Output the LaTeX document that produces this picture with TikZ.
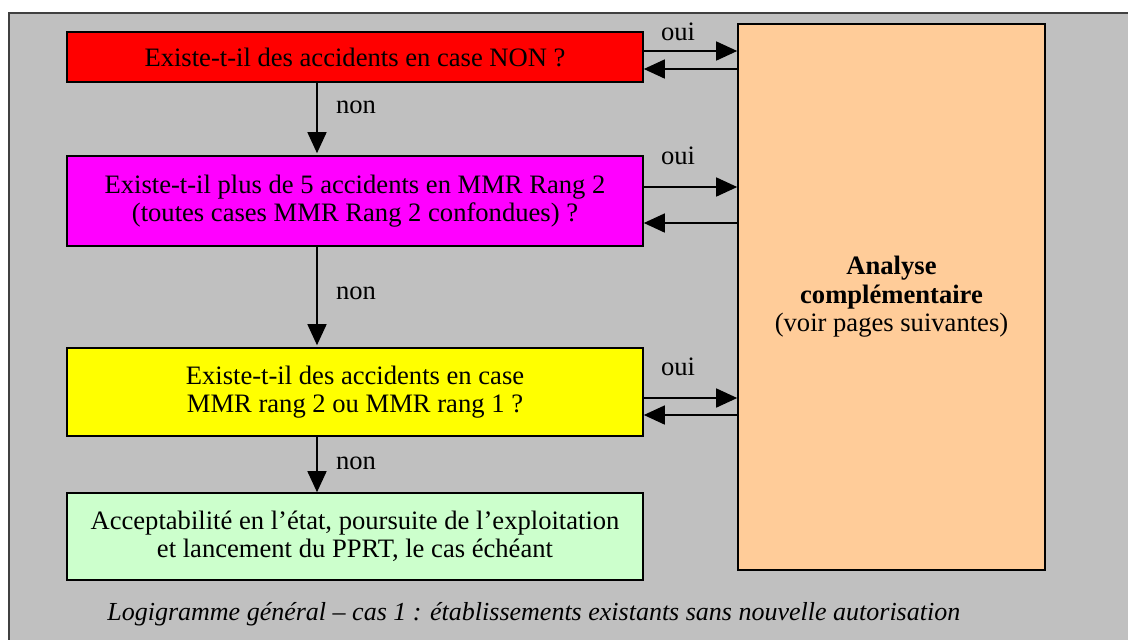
\documentclass[tikz,border=0pt]{standalone}
\usepackage{fontspec}
\setmainfont{Liberation Serif}
\usetikzlibrary{arrows.meta}
\definecolor{bggray}{HTML}{C0C0C0}
\definecolor{boxred}{HTML}{FF0000}
\definecolor{boxmag}{HTML}{FF00FF}
\definecolor{boxyel}{HTML}{FFFF00}
\definecolor{boxgreen}{HTML}{CCFFCC}
\definecolor{boxorange}{HTML}{FFCC99}
\begin{document}
\begin{tikzpicture}[x=0.5pt,y=-0.5pt,
  box/.style={draw=black,line width=0.8pt,align=center,inner sep=0pt,font=\fontsize{13.3}{14.2}\selectfont},
  arr/.style={line width=0.75pt,-{Triangle[length=10.5pt,width=9.5pt]}},
  lab/.style={font=\fontsize{13.3}{14.2}\selectfont,inner sep=0pt}]
\clip (0,0) rectangle (1128,639);
\useasboundingbox (0,0) rectangle (1128,639);
\fill[white] (0,0) rectangle (1128,639);
\draw[fill=bggray,draw=black!75,line width=0.8pt] (9,13) rectangle (1150,660);

\node[box,fill=boxred,minimum width=288pt,minimum height=25pt] (q1) at (355,57)
  {Existe-t-il des accidents en case NON ?};
\node[box,fill=boxmag,minimum width=288pt,minimum height=45pt] (q2) at (355,201)
  {Existe-t-il plus de 5 accidents en MMR Rang 2\\(toutes cases MMR Rang 2 confondues) ?};
\node[box,fill=boxyel,minimum width=288pt,minimum height=44pt] (q3) at (355,392)
  {Existe-t-il des accidents en case\\MMR rang 2 ou MMR rang 1 ?};
\node[box,fill=boxgreen,minimum width=288pt,minimum height=43.5pt] (ok) at (355,536.5)
  {Acceptabilité en l’état, poursuite de l’exploitation\\et lancement du PPRT, le cas échéant};
\node[box,fill=boxorange,minimum width=153.5pt,minimum height=273pt] (an) at (891.5,297)
  {\textbf{Analyse}\\\textbf{complémentaire}\\(voir pages suivantes)};

\draw[arr] (q1.east |- 0,51) -- (an.west |- 0,51);
\draw[arr] (an.west |- 0,69) -- (q1.east |- 0,69);
\draw[arr] (q2.east |- 0,187) -- (an.west |- 0,187);
\draw[arr] (an.west |- 0,223) -- (q2.east |- 0,223);
\draw[arr] (q3.east |- 0,398) -- (an.west |- 0,398);
\draw[arr] (an.west |- 0,415) -- (q3.east |- 0,415);

\draw[arr,shorten >=1pt] (q1.south -| 317,0) -- (q2.north -| 317,0);
\draw[arr,shorten >=1pt] (q2.south -| 317,0) -- (q3.north -| 317,0);
\draw[arr] (q3.south -| 317,0) -- (ok.north -| 317,0);

\node[lab] (oui1) at (678,32) {oui};
\node[lab] (oui2) at (678,156) {oui};
\node[lab] (oui3) at (678,367) {oui};
\node[lab] (non1) at (356,107) {non};
\node[lab] (non2) at (356,293) {non};
\node[lab] (non3) at (356,463) {non};

\node[lab,font=\fontsize{13}{14}\selectfont\itshape,anchor=west] (cap) at (107,614)
  {Logigramme général – cas 1 : établissements existants sans nouvelle autorisation};
\end{tikzpicture}
\end{document}
